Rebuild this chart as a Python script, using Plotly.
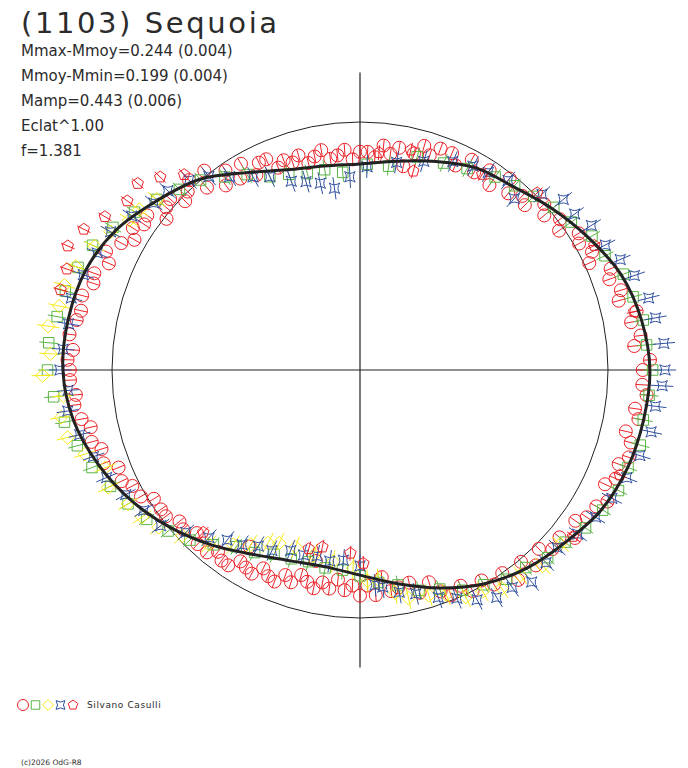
import numpy as np
import plotly.graph_objects as go

# ---------------- text ----------------
TITLE = "(1103) Sequoia"
INFO_LINES = [
    "Mmax-Mmoy=0.244 (0.004)",
    "Mmoy-Mmin=0.199 (0.004)",
    "Mamp=0.443 (0.006)",
    "Eclat^1.00",
    "f=1.381",
]
OBSERVER = "Silvano Casulli"
COPYRIGHT = "(c)2026 OdG-R8"

# ---------------- data (polar: phase angle in degrees, relative radius) ----------------
REF_RADIUS = 1.0      # mean-brightness reference circle
AXIS_EXTENT = 1.2     # length of the cross axes

# fitted light-curve (black line)
CURVE_ANGLE = [0, 10, 20, 30, 40, 50, 60, 70, 80, 90, 100, 110, 120, 130, 140, 150, 160, 170,
               180, 190, 200, 210, 220, 230, 240, 250, 260, 270, 280, 290, 300, 310, 320, 330,
               340, 350]
CURVE_R = [1.169, 1.153, 1.121, 1.065, 1.012, 0.964, 0.940, 0.895, 0.855, 0.831, 0.835, 0.859,
           0.919, 1.004, 1.065, 1.133, 1.177, 1.194, 1.198, 1.173, 1.121, 1.060, 0.992, 0.923,
           0.859, 0.819, 0.806, 0.827, 0.875, 0.935, 0.996, 1.044, 1.081, 1.125, 1.149, 1.161]

# session 1 : red circles
RC_ANGLE = [0, 2, 5, 7, 10, 12, 15, 17, 20, 22, 25, 27, 30, 32, 35, 37, 40, 42, 45, 47, 50, 52, 55,
            57, 60, 62, 65, 67, 70, 72, 74, 76, 78, 80, 82, 84, 86, 88, 90, 92, 94, 96, 98, 100,
            102, 104, 106, 108, 110, 112, 114, 116, 118, 120, 122, 124, 126, 128, 130, 132, 134,
            136, 138, 140, 142, 144, 146, 148, 150, 152, 155, 157, 160, 162, 165, 168, 170, 173,
            176, 178, 180, 182, 185, 187, 190, 192, 195, 197, 200, 202, 205, 207, 210, 212, 215,
            217, 220, 222, 225, 227, 230, 232, 234, 236, 238, 238, 240, 242, 244, 246, 248, 250,
            252, 254, 256, 257, 258, 260, 262, 264, 266, 268, 270, 272, 274, 276, 278, 280, 283,
            285, 288, 290, 292, 295, 297, 300, 302, 305, 307, 310, 312, 315, 317, 320, 322, 325,
            327, 330, 332, 335, 337, 340, 342, 345, 347, 350, 352, 355, 357]
RC_R = [1.14, 1.17, 1.11, 1.14, 1.11, 1.14, 1.08, 1.10, 1.07, 1.09, 1.02, 1.05, 1.02, 1.04, 0.98,
        1.01, 0.97, 1.00, 0.94, 0.96, 0.93, 0.98, 0.91, 0.96, 0.92, 0.96, 0.91, 0.95, 0.95, 0.91,
        0.94, 0.90, 0.84, 0.91, 0.88, 0.91, 0.86, 0.88, 0.88, 0.85, 0.89, 0.87, 0.86, 0.90, 0.88,
        0.86, 0.90, 0.88, 0.90, 0.88, 0.93, 0.93, 0.89, 0.96, 0.91, 0.97, 0.92, 1.02, 0.96, 1.03,
        1.00, 0.98, 1.03, 1.02, 0.99, 1.06, 1.05, 1.08, 1.05, 1.09, 1.13, 1.10, 1.14, 1.13, 1.16,
        1.15, 1.16, 1.18, 1.16, 1.18, 1.17, 1.17, 1.15, 1.16, 1.14, 1.11, 1.12, 1.09, 1.10, 1.05,
        1.06, 1.03, 1.02, 0.98, 0.98, 0.98, 0.95, 0.96, 0.93, 0.96, 0.96, 0.93, 0.95, 0.95, 0.91,
        0.84, 0.92, 0.93, 0.89, 0.91, 0.92, 0.88, 0.90, 0.86, 0.88, 0.79, 0.90, 0.87, 0.89, 0.85,
        0.89, 0.87, 0.91, 0.87, 0.91, 0.84, 0.90, 0.89, 0.88, 0.93, 0.90, 0.95, 0.98, 0.96, 1.00,
        0.98, 1.02, 1.00, 1.06, 1.01, 1.06, 1.02, 1.06, 1.05, 1.10, 1.06, 1.09, 1.10, 1.13, 1.09,
        1.12, 1.11, 1.14, 1.13, 1.10, 1.14, 1.12, 1.16, 1.14]

# session 2 : green squares
GS_ANGLE = [0, 5, 10, 15, 20, 25, 30, 35, 40, 45, 50, 55, 62, 68, 75, 82, 88, 95, 100, 105, 110,
            115, 120, 125, 130, 135, 140, 145, 150, 155, 160, 165, 170, 175, 180, 185, 190, 195,
            200, 205, 210, 215, 220, 225, 230, 235, 240, 245, 250, 255, 260, 265, 270, 275, 280,
            285, 290, 295, 300, 305, 310, 315, 320, 325, 330, 335, 340, 345, 350, 355]
GS_R = [1.18, 1.16, 1.16, 1.14, 1.13, 1.09, 1.08, 1.04, 1.02, 0.99, 0.97, 0.95, 0.92, 0.90, 0.89,
        0.83, 0.83, 0.80, 0.82, 0.82, 0.84, 0.86, 0.91, 0.95, 1.00, 1.03, 1.07, 1.11, 1.15, 1.19,
        1.21, 1.23, 1.24, 1.26, 1.26, 1.24, 1.21, 1.18, 1.15, 1.11, 1.08, 1.05, 1.01, 0.97, 0.92,
        0.87, 0.85, 0.82, 0.81, 0.80, 0.81, 0.81, 0.83, 0.86, 0.88, 0.92, 0.94, 0.98, 1.00, 1.03,
        1.04, 1.07, 1.08, 1.11, 1.13, 1.15, 1.15, 1.17, 1.16, 1.17]

# session 3 : yellow diamonds
YD_ANGLE = [140, 144, 147, 151, 155, 160, 164, 168, 172, 177, 181, 185, 189, 193, 197, 201, 205,
            210, 214, 218, 223, 229, 234, 238, 242, 245, 250, 256, 262, 268, 272, 275, 279, 282,
            287, 291, 295, 299, 303, 308, 313, 319]
YD_R = [1.07, 1.10, 1.11, 1.15, 1.18, 1.22, 1.24, 1.24, 1.27, 1.25, 1.28, 1.20, 1.22, 1.21, 1.16,
        1.10, 1.12, 1.08, 1.06, 1.03, 0.98, 0.93, 0.87, 0.83, 0.79, 0.77, 0.76, 0.77, 0.78, 0.80,
        0.85, 0.85, 0.91, 0.94, 0.95, 0.97, 1.01, 1.02, 1.05, 1.05, 1.08, 1.07]

# session 4 : blue stars
BS_ANGLE = [0, 5, 10, 14, 19, 23, 27, 32, 36, 40, 44, 48, 52, 57, 61, 66, 73, 80, 88, 93, 98, 102,
            106, 110, 115, 119, 124, 128, 132, 137, 141, 146, 151, 156, 161, 166, 171, 176, 180,
            184, 188, 193, 198, 203, 208, 213, 218, 223, 228, 232, 236, 240, 244, 249, 253, 257,
            261, 265, 270, 274, 276, 280, 284, 289, 293, 297, 301, 305, 309, 314, 318, 323, 328,
            333, 338, 343, 348, 353, 357]
BS_R = [1.23, 1.23, 1.21, 1.20, 1.17, 1.14, 1.11, 1.10, 1.07, 1.07, 1.02, 0.93, 0.97, 0.95, 0.94,
        0.92, 0.88, 0.85, 0.82, 0.78, 0.74, 0.77, 0.79, 0.81, 0.86, 0.89, 0.94, 0.99, 1.03, 1.06,
        1.07, 1.11, 1.15, 1.16, 1.18, 1.20, 1.19, 1.20, 1.21, 1.18, 1.19, 1.16, 1.13, 1.11, 1.07,
        1.04, 1.02, 0.96, 0.91, 0.87, 0.85, 0.82, 0.81, 0.78, 0.78, 0.77, 0.78, 0.77, 0.79, 0.87,
        0.88, 0.91, 0.93, 0.97, 1.00, 1.04, 1.07, 1.07, 1.10, 1.08, 1.07, 1.10, 1.12, 1.14, 1.16,
        1.18, 1.20, 1.20, 1.22]

# session 5 : red pentagons
RP_ANGLE = [12, 28, 45, 58, 75, 77, 85, 132, 136, 140, 144, 149, 153, 157, 161, 165, 226, 254,
            258, 267, 271, 322, 338]
RP_R = [1.13, 1.07, 1.01, 0.93, 0.83, 0.91, 0.88, 1.06, 1.12, 1.17, 1.16, 1.20, 1.25, 1.28, 1.25,
        1.25, 0.91, 0.75, 0.73, 0.74, 0.78, 1.09, 1.13]

# photometric uncertainty of each session (radial error bars)
RC_ERR = 0.026
GS_ERR = 0.038
YD_ERR = 0.045
BS_ERR = 0.045
RP_ERR = 0.030

# ---------------- styles ----------------
RED = "#ec2227"
GREEN = "#5bb546"
YELLOW = "#f7ea16"
BLUE = "#30509f"
INK = "#222222"
TEXT_INK = "#2b2b2b"
FONT = "DejaVu Sans, Verdana, sans-serif"

SERIES = [
    dict(ang=RC_ANGLE, r=RC_R, err=RC_ERR, symbol="circle-open", size=13, color=RED, lsize=11),
    dict(ang=GS_ANGLE, r=GS_R, err=GS_ERR, symbol="square-open", size=10.5, color=GREEN, lsize=8.5),
    dict(ang=YD_ANGLE, r=YD_R, err=YD_ERR, symbol="diamond-open", size=10.5, color=YELLOW, lsize=8.5),
    dict(ang=BS_ANGLE, r=BS_R, err=BS_ERR, symbol="star-square-open", size=9.5, color=BLUE, lsize=8),
    dict(ang=RP_ANGLE, r=RP_R, err=RP_ERR, symbol="pentagon-open", size=12, color=RED, lsize=10),
]


def to_xy(ang, r):
    t = np.radians(np.asarray(ang, dtype=float))
    r = np.asarray(r, dtype=float)
    return r * np.cos(t), r * np.sin(t)


fig = go.Figure()

# radial error bars + markers
for s in SERIES:
    t = np.radians(np.asarray(s["ang"], dtype=float))
    r = np.asarray(s["r"], dtype=float)
    r0, r1 = r - s["err"], r + s["err"]
    ex = np.column_stack([r0 * np.cos(t), r1 * np.cos(t), np.full(len(t), np.nan)]).ravel()
    ey = np.column_stack([r0 * np.sin(t), r1 * np.sin(t), np.full(len(t), np.nan)]).ravel()
    fig.add_trace(go.Scatter(x=ex, y=ey, mode="lines", line=dict(color=s["color"], width=1),
                             hoverinfo="skip", showlegend=False, connectgaps=False))
    x, y = to_xy(s["ang"], s["r"])
    fig.add_trace(go.Scatter(x=x, y=y, mode="markers", showlegend=False,
                             marker=dict(symbol=s["symbol"], size=s["size"], color=s["color"],
                                         line=dict(color=s["color"], width=1))))

# fitted curve (closed)
ca = list(CURVE_ANGLE) + [CURVE_ANGLE[0] + 360]
cr = list(CURVE_R) + [CURVE_R[0]]
cx, cy = to_xy(ca, cr)
fig.add_trace(go.Scatter(x=cx, y=cy, mode="lines",
                         line=dict(color=INK, width=3, shape="spline", smoothing=1.0),
                         showlegend=False, hoverinfo="skip"))

# footer symbol key (on its own overlay axes)
for i, s in enumerate(SERIES):
    fig.add_trace(go.Scatter(x=[i], y=[0], xaxis="x2", yaxis="y2", mode="markers",
                             showlegend=False, hoverinfo="skip",
                             marker=dict(symbol=s["symbol"], size=s["lsize"], color=s["color"],
                                         line=dict(color=s["color"], width=1))))

# reference circle and cross axes
shapes = [
    dict(type="circle", xref="x", yref="y", x0=-REF_RADIUS, x1=REF_RADIUS, y0=-REF_RADIUS,
         y1=REF_RADIUS, line=dict(color=INK, width=1), layer="below"),
    dict(type="line", xref="x", yref="y", x0=-AXIS_EXTENT, x1=AXIS_EXTENT, y0=0, y1=0,
         line=dict(color=INK, width=1.2), layer="below"),
    dict(type="line", xref="x", yref="y", x0=0, x1=0, y0=-AXIS_EXTENT, y1=AXIS_EXTENT,
         line=dict(color=INK, width=1.2), layer="below"),
]

W, H = 688, 768
CX, CY, SCALE = 360, 370, 248  # pixel centre and pixels per unit radius


def py(v):
    return 1 - v / H


def spaced(text, px):
    return '<span style="letter-spacing:%.1fpx">%s</span>' % (px, text)


annotations = [dict(text=spaced(TITLE, 2.6), x=19 / W, y=py(23), xref="paper", yref="paper",
                    xanchor="left", yanchor="middle", showarrow=False,
                    font=dict(family=FONT, size=29, color=TEXT_INK))]
for k, line in enumerate(INFO_LINES):
    annotations.append(dict(text=line, x=19 / W, y=py(51 + 25 * k), xref="paper", yref="paper",
                            xanchor="left", yanchor="middle", showarrow=False,
                            font=dict(family=FONT, size=15, color=TEXT_INK)))
annotations.append(dict(text=spaced(OBSERVER, 0.6), x=85 / W, y=py(705), xref="paper",
                        yref="paper", xanchor="left", yanchor="middle", showarrow=False,
                        font=dict(family=FONT, size=9, color=TEXT_INK)))
annotations.append(dict(text=COPYRIGHT, x=19 / W, y=py(762), xref="paper", yref="paper",
                        xanchor="left", yanchor="middle", showarrow=False,
                        font=dict(family=FONT, size=7.5, color=TEXT_INK)))

fig.update_layout(
    width=W, height=H, margin=dict(l=0, r=0, t=0, b=0),
    paper_bgcolor="white", plot_bgcolor="white", showlegend=False,
    xaxis=dict(range=[-CX / SCALE, (W - CX) / SCALE], visible=False, fixedrange=True),
    yaxis=dict(range=[(CY - H) / SCALE, CY / SCALE], visible=False, fixedrange=True),
    xaxis2=dict(range=[-23 / 12.5, (W - 23) / 12.5], visible=False, overlaying="x",
                fixedrange=True),
    yaxis2=dict(range=[-(H - 705), 705], visible=False, overlaying="y", fixedrange=True),
    shapes=shapes, annotations=annotations,
)

fig.write_html("out.html", config={"displayModeBar": False},
               post_script="document.body.style.margin='0';document.body.style.overflow='hidden';")
